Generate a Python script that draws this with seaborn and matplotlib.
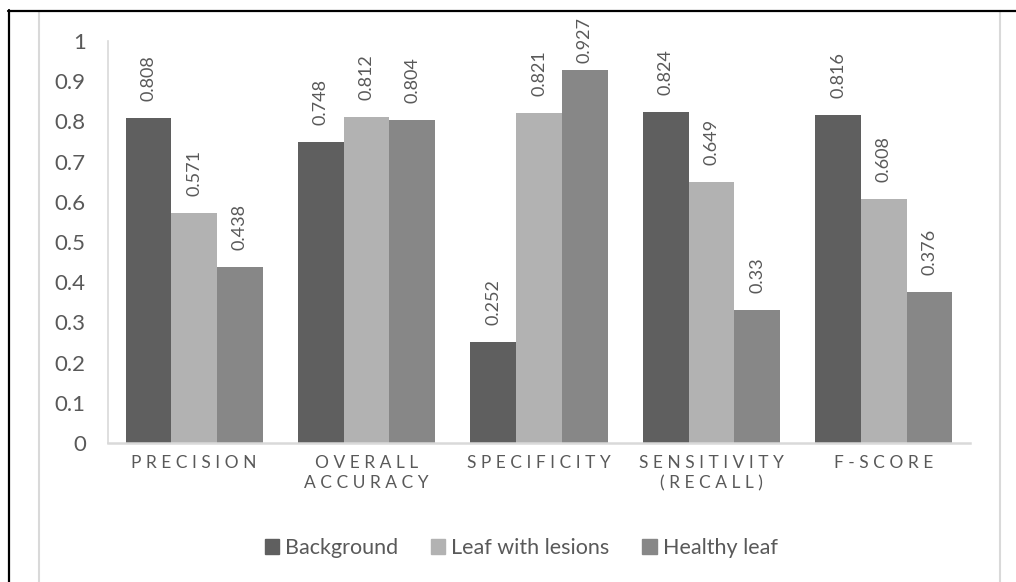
import matplotlib
matplotlib.use("Agg")
import matplotlib.pyplot as plt
from matplotlib.lines import Line2D
import numpy as np
import pandas as pd
import seaborn as sns

# Metrics and per-class scores
metrics = ["PRECISION", "OVERALL\nACCURACY", "SPECIFICITY", "SENSITIVITY\n(RECALL)", "F-SCORE"]
classes = ["Background", "Leaf with lesions", "Healthy leaf"]
background = [0.808, 0.748, 0.252, 0.824, 0.816]
leaf_with_lesions = [0.571, 0.812, 0.821, 0.649, 0.608]
healthy_leaf = [0.438, 0.804, 0.927, 0.330, 0.376]
yticks = [0, 0.1, 0.2, 0.3, 0.4, 0.5, 0.6, 0.7, 0.8, 0.9, 1]
ytick_labels = ["0", "0.1", "0.2", "0.3", "0.4", "0.5", "0.6", "0.7", "0.8", "0.9", "1"]

colors = ["#5f5f5f", "#b2b2b2", "#878787"]
text_color = "#595959"
axis_color = "#d9d9d9"

sns.set_theme(style="white")
plt.rcParams["font.family"] = ["Lato", "DejaVu Sans"]

df = pd.DataFrame({
    "metric": np.repeat(metrics, len(classes)),
    "cls": classes * len(metrics),
    "value": np.ravel(np.column_stack([background, leaf_with_lesions, healthy_leaf])),
})

W, H = 1016, 582
fig = plt.figure(figsize=(W / 100, H / 100), dpi=100)
ax = fig.add_axes([108 / W, 1 - 443 / H, (970 - 108) / W, (443 - 41) / H])

sns.barplot(data=df, x="metric", y="value", hue="cls", order=metrics, hue_order=classes,
            palette=colors, width=0.795, saturation=1, linewidth=0, ax=ax, legend=True)

ax.set_xlim(-0.5, len(metrics) - 0.5)
ax.set_ylim(0, 1)
ax.set_yticks(yticks)
ax.set_yticklabels(ytick_labels)
ax.set_xlabel("")
ax.set_ylabel("")

for side in ["top", "right"]:
    ax.spines[side].set_visible(False)
for side in ["left", "bottom"]:
    ax.spines[side].set_color(axis_color)
ax.spines["left"].set_linewidth(1.2)
ax.spines["bottom"].set_linewidth(1.8)

ax.tick_params(axis="y", length=0, pad=16, labelsize=16, labelcolor=text_color)
ax.tick_params(axis="x", length=0, pad=9, labelcolor=text_color)

# Letter-spaced category labels
spaced = ["\n".join(" ".join(line) for line in m.split("\n")) for m in metrics]
ax.set_xticks(range(len(metrics)))
ax.set_xticklabels(spaced, fontsize=12.5, color=text_color, linespacing=1.3)

# Value labels above each bar, kept inside the chart frame
label_len_px = 47
top_limit_px = 16
for container in ax.containers:
    for bar in container:
        h = bar.get_height()
        bar_top_px = H - ax.transData.transform((0, h))[1]
        gap_px = min(17, bar_top_px - label_len_px - top_limit_px)
        ax.annotate(f"{h:g}", (bar.get_x() + bar.get_width() / 2, h),
                    xytext=(0, gap_px * 72 / 100), textcoords="offset points",
                    rotation=90, ha="center", va="bottom",
                    fontsize=13, color=text_color)

# Legend below the plot
handles = [plt.Rectangle((0, 0), 1, 1, color=c) for c in colors]
ax.get_legend().remove()
fig.legend(handles, classes, loc="center", bbox_to_anchor=(521 / W, 1 - 548 / H),
           ncol=3, frameon=False, fontsize=15.5, labelcolor=text_color,
           handlelength=0.68, handleheight=0.68, handletextpad=0.28, columnspacing=1.5)

# Outer frame
def fx(x): return x / W
def fy(y): return 1 - y / H
fig.add_artist(Line2D([fx(39), fx(39)], [fy(11), fy(582)], color=axis_color, lw=1.5))
fig.add_artist(Line2D([fx(999.5), fx(999.5)], [fy(11), fy(582)], color=axis_color, lw=1.5))
fig.add_artist(Line2D([fx(8), fx(1016)], [fy(10.5), fy(10.5)], color="black", lw=1.6))
fig.add_artist(Line2D([fx(8.5), fx(8.5)], [fy(10), fy(582)], color="black", lw=1.6))

fig.savefig("out.png", dpi=100, facecolor="white")
